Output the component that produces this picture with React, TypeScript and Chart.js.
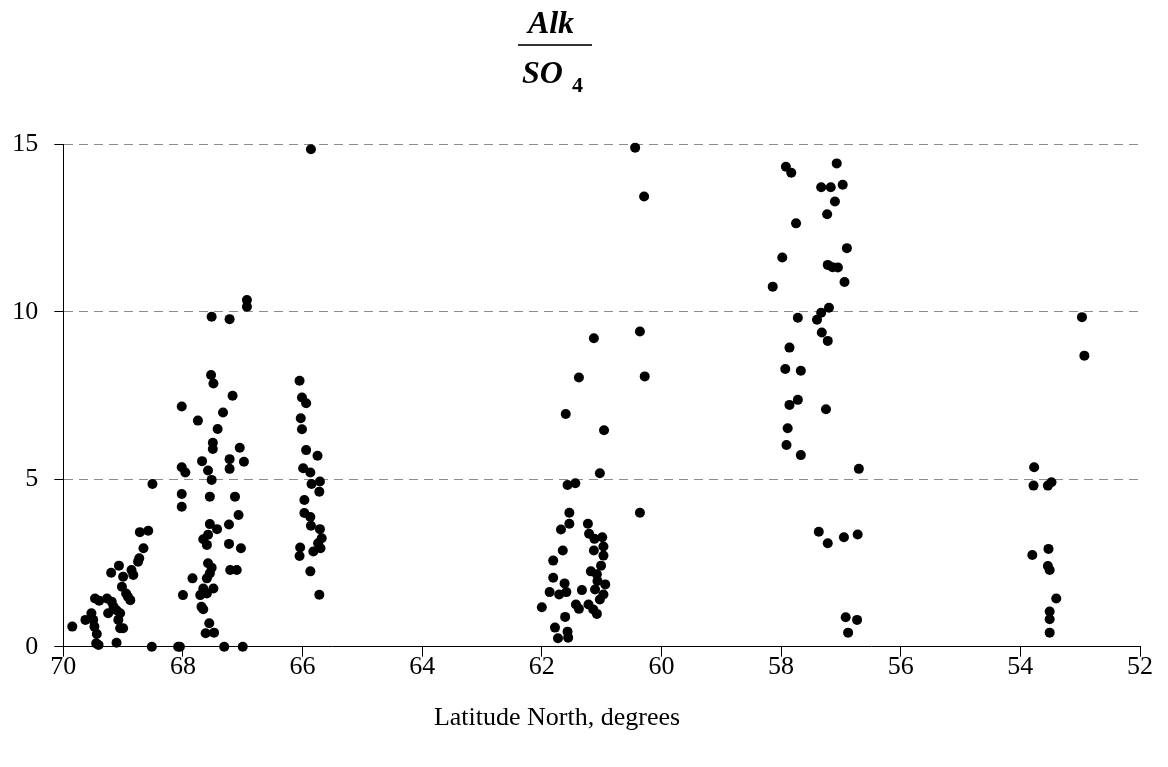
import React, { useEffect, useRef } from "react";
import { Chart, registerables } from "chart.js";

Chart.register(...registerables);

// Latitude (degrees N) and Alk/SO4 ratio, grouped by latitude band
const lat70to68 = [69.85, 69.63, 69.53, 69.5, 69.48, 69.44, 69.45, 69.41, 69.47, 69.4, 69.27, 69.25, 69.19, 69.16, 69.11, 69.05, 69.08, 69.05, 69.0, 69.11, 69.2, 69.07, 69.0, 69.02, 68.95, 68.88, 68.92, 68.83, 68.86, 68.75, 68.73, 68.66, 68.72, 68.58, 68.51, 68.52];
const ratio70to68 = [0.6, 0.8, 1.0, 0.8, 0.6, 0.38, 0.1, 0.05, 1.44, 1.37, 1.44, 1.0, 1.34, 1.19, 1.09, 1.0, 0.8, 0.55, 0.55, 0.12, 2.21, 2.42, 2.09, 1.79, 1.59, 1.39, 1.49, 2.14, 2.29, 2.54, 2.64, 2.94, 3.42, 3.46, 4.86, 0.0];

const lat68to67 = [68.08, 68.05, 68.02, 68.02, 67.96, 68.02, 68.02, 68.0, 67.84, 67.75, 67.68, 67.58, 67.52, 67.55, 67.55, 67.43, 67.66, 67.6, 67.58, 67.58, 67.52, 67.55, 67.6, 67.49, 67.66, 67.71, 67.6, 67.69, 67.66, 67.56, 67.62, 67.48, 67.49, 67.53, 67.17, 67.33, 67.42, 67.5, 67.5, 67.05, 67.22, 67.22, 66.98, 67.13, 67.07, 67.23, 67.23, 67.03, 67.21, 67.1, 67.31, 67.0, 66.93, 66.93, 67.52, 67.22];
const ratio68to67 = [0, 0, 7.17, 5.36, 5.2, 4.56, 4.18, 1.54, 2.04, 6.75, 5.54, 5.26, 4.98, 4.48, 3.66, 3.51, 3.21, 3.04, 3.34, 2.49, 2.36, 2.19, 2.04, 1.74, 1.74, 1.54, 1.59, 1.19, 1.12, 0.7, 0.4, 0.42, 7.86, 8.11, 7.49, 6.99, 6.5, 6.09, 5.9, 5.94, 5.6, 5.31, 5.52, 4.48, 3.93, 3.65, 3.07, 2.94, 2.29, 2.29, 0, 0, 10.35, 10.15, 9.85, 9.78];

const lat66 = [66.05, 66.01, 65.94, 66.03, 66.01, 65.94, 65.75, 65.99, 65.87, 65.71, 65.85, 65.72, 65.97, 65.97, 65.87, 65.86, 65.71, 65.68, 65.74, 65.82, 65.7, 66.04, 66.05, 65.87, 65.72, 65.86];
const ratio66 = [7.94, 7.44, 7.27, 6.82, 6.49, 5.87, 5.7, 5.33, 5.2, 4.93, 4.86, 4.63, 4.38, 3.99, 3.87, 3.61, 3.51, 3.24, 3.09, 2.84, 2.94, 2.96, 2.71, 2.25, 1.55, 14.85];

const lat62to60 = [60.44, 60.29, 60.36, 60.28, 60.36, 61.13, 61.38, 61.6, 60.96, 61.03, 61.57, 61.44, 61.54, 61.54, 61.68, 61.23, 61.21, 61.12, 60.99, 60.97, 61.65, 61.13, 60.97, 61.81, 61.01, 61.18, 61.08, 61.81, 61.07, 60.94, 61.62, 61.87, 61.71, 61.59, 61.33, 61.11, 60.97, 61.03, 62.0, 61.43, 61.38, 61.22, 61.14, 61.08, 61.61, 61.78, 61.57, 61.73, 61.56];
const ratio62to60 = [14.9, 13.44, 9.41, 8.07, 4.0, 9.21, 8.04, 6.95, 6.46, 5.18, 4.83, 4.88, 4.0, 3.67, 3.5, 3.67, 3.37, 3.22, 3.27, 2.99, 2.87, 2.87, 2.72, 2.57, 2.42, 2.25, 2.16, 2.06, 1.96, 1.86, 1.89, 1.63, 1.56, 1.63, 1.69, 1.71, 1.56, 1.41, 1.18, 1.26, 1.13, 1.26, 1.11, 0.98, 0.89, 0.57, 0.45, 0.25, 0.27];

const lat58to56 = [57.92, 57.83, 57.07, 57.33, 57.17, 56.97, 57.1, 57.23, 57.75, 56.9, 57.98, 57.22, 57.14, 57.05, 56.94, 58.14, 57.2, 57.33, 57.4, 57.72, 57.32, 57.22, 57.86, 57.93, 57.67, 57.86, 57.72, 57.25, 57.89, 57.91, 57.67, 56.7, 57.37, 57.22, 56.95, 56.72, 56.92, 56.73, 56.88];
const ratio58to56 = [14.33, 14.15, 14.43, 13.72, 13.72, 13.79, 13.29, 12.91, 12.64, 11.9, 11.62, 11.4, 11.33, 11.32, 10.89, 10.75, 10.12, 9.97, 9.76, 9.82, 9.38, 9.13, 8.93, 8.29, 8.24, 7.22, 7.37, 7.09, 6.52, 6.02, 5.72, 5.31, 3.43, 3.09, 3.27, 3.35, 0.88, 0.8, 0.42];

const lat54to53 = [52.97, 52.93, 53.77, 53.78, 53.54, 53.48, 53.8, 53.53, 53.54, 53.51, 53.4, 53.51, 53.51, 53.51];
const ratio54to53 = [9.84, 8.69, 5.36, 4.81, 4.81, 4.91, 2.74, 2.92, 2.41, 2.29, 1.44, 1.05, 0.82, 0.42];

const xTickValues = [70, 68, 66, 64, 62, 60, 58, 56, 54, 52];
const yTickValues = [0, 5, 10, 15];

const titleNumerator = "Alk";
const titleDenominator = "SO";
const titleSubscript = "4";
const xAxisTitle = "Latitude North, degrees";

const latGroups = [lat70to68, lat68to67, lat66, lat62to60, lat58to56, lat54to53];
const ratioGroups = [ratio70to68, ratio68to67, ratio66, ratio62to60, ratio58to56, ratio54to53];

const FONT = "'Liberation Serif', 'Times New Roman', serif";

const textLayer = {
  id: "textLayer",
  afterDraw(chart: any) {
    const ctx = chart.ctx;
    ctx.save();
    ctx.fillStyle = "#000";
    ctx.textBaseline = "alphabetic";
    ctx.textAlign = "center";
    ctx.font = `italic bold 32px ${FONT}`;
    ctx.fillText(titleNumerator, 543, 25);
    ctx.strokeStyle = "#333";
    ctx.lineWidth = 2;
    ctx.beginPath();
    ctx.moveTo(510, 37);
    ctx.lineTo(584, 37);
    ctx.stroke();
    ctx.textAlign = "left";
    ctx.fillText(titleDenominator, 514, 75);
    ctx.font = `bold 22px ${FONT}`;
    ctx.fillText(titleSubscript, 564, 84);
    // x axis title
    ctx.font = `26px ${FONT}`;
    ctx.textAlign = "center";
    ctx.textBaseline = "middle";
    ctx.fillText(xAxisTitle, 549, 710);
    ctx.restore();
  },
};

export default function App() {
  const ref = useRef<HTMLCanvasElement | null>(null);

  useEffect(() => {
    if (!ref.current) return;
    const points: { x: number; y: number }[] = [];
    latGroups.forEach((lats, g) => {
      lats.forEach((lat, i) => points.push({ x: lat, y: ratioGroups[g][i] }));
    });

    const chart = new Chart(ref.current, {
      type: "scatter",
      data: {
        datasets: [
          {
            label: "Alk/SO4",
            data: points,
            pointRadius: 5,
            pointHoverRadius: 5,
            pointBorderWidth: 0,
            backgroundColor: "#000",
            borderColor: "#000",
            clip: false,
          } as any,
        ],
      },
      plugins: [textLayer],
      options: {
        animation: false,
        responsive: false,
        events: [],
        layout: { padding: { left: 0, right: 20, top: 136.3, bottom: 0 } },
        plugins: {
          legend: { display: false },
          tooltip: { enabled: false },
          title: { display: false },
        },
        scales: {
          x: {
            type: "linear",
            reverse: true,
            min: 52,
            max: 70,
            afterBuildTicks: (scale: any) => {
              scale.ticks = xTickValues.map((v) => ({ value: v }));
            },
            afterFit: (scale: any) => {
              scale.height = 112.3;
            },
            grid: {
              drawOnChartArea: false,
              drawTicks: true,
              tickLength: 10,
              tickColor: "#000",
              tickWidth: 1,
            },
            border: { display: true, color: "#000", width: 1 },
            ticks: {
              color: "#000",
              font: { family: FONT, size: 26 },
              padding: -5,
              maxRotation: 0,
              autoSkip: false,
              callback: (v: any) => String(v),
            },
          },
          y: {
            type: "linear",
            min: 0,
            max: 15,
            afterBuildTicks: (scale: any) => {
              scale.ticks = yTickValues.map((v) => ({ value: v }));
            },
            afterFit: (scale: any) => {
              scale.width = 55.3;
            },
            grid: {
              drawOnChartArea: true,
              drawTicks: true,
              tickLength: 9,
              color: (c: any) => (c.tick && c.tick.value === 0 ? "rgba(0,0,0,0)" : "#8c8c8c"),
              lineWidth: 1,
              tickColor: "#000",
              tickWidth: 1,
              tickBorderDash: [],
            },
            border: { display: true, color: "#000", width: 1, dash: [9, 6] },
            ticks: {
              color: "#000",
              font: { family: FONT, size: 26 },
              padding: 16,
              autoSkip: false,
              callback: (v: any) => String(v),
            },
          },
        },
      } as any,
    });
    return () => chart.destroy();
  }, []);

  return (
    <div style={{ width: 1152, height: 751 }}>
      <canvas ref={ref} width={1152} height={751} style={{ display: "block" }} />
    </div>
  );
}
